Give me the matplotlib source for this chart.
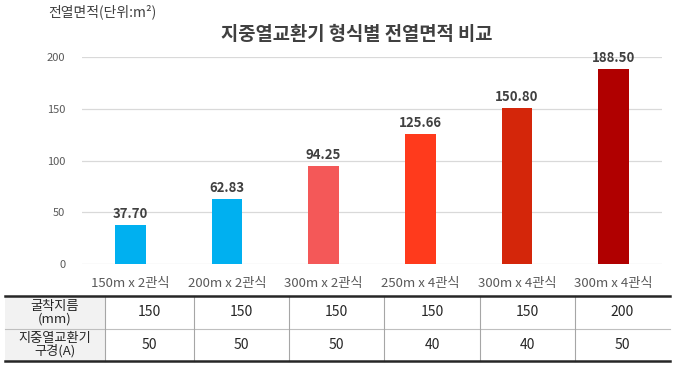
import matplotlib
matplotlib.use("Agg")
import matplotlib.pyplot as plt
from matplotlib.lines import Line2D
from matplotlib.patches import Rectangle

plt.rcParams['font.family'] = ['Noto Sans CJK KR', 'DejaVu Sans']

# data
categories = ["150m x 2관식", "200m x 2관식", "300m x 2관식",
              "250m x 4관식", "300m x 4관식", "300m x 4관식"]
areas = [37.70, 62.83, 94.25, 125.66, 150.80, 188.50]
bar_colors = ["#00B0F0", "#00B0F0", "#F45858", "#FF3A1C", "#D4260A", "#B00000"]
yticks = [0, 50, 100, 150, 200]

row_headers = ["굴착지름\n(mm)", "지중열교환기\n구경(A)"]
dig_diameter = [150, 150, 150, 150, 150, 200]
pipe_size = [50, 50, 50, 40, 40, 50]

W, H = 680, 366
fig = plt.figure(figsize=(W / 100, H / 100), dpi=100)
ax = fig.add_axes([82 / W, 1 - 264 / H, 580 / W, 207 / H])

x = range(len(categories))
bars = ax.bar(x, areas, width=0.32, color=bar_colors, zorder=3)
for b, v in zip(bars, areas):
    ax.text(b.get_x() + b.get_width() / 2, v + 4, f"{v:.2f}", ha="center", va="bottom",
            fontsize=9.5, fontweight="bold", color="#404040", clip_on=False)

ax.set_xlim(-0.5, len(categories) - 0.5)
ax.set_ylim(0, 200)
ax.set_yticks(yticks)
ax.set_xticks(list(x))
ax.set_xticklabels(categories)
ax.tick_params(axis="y", length=0, pad=12, labelsize=8, labelcolor="#595959")
ax.tick_params(axis="x", length=0, pad=9, labelsize=9.5, labelcolor="#595959")
ax.grid(axis="y", color="#D9D9D9", linewidth=0.9, zorder=0)
for s in ax.spines.values():
    s.set_visible(False)

fig.text(357 / W, 1 - 35 / H, "지중열교환기 형식별 전열면적 비교", ha="center", va="center",
         fontsize=13.5, fontweight="bold", color="#404040")
fig.text(48 / W, 1 - 12 / H, "전열면적(단위:m²)", ha="left", va="center",
         fontsize=10, color="#404040")

# table under the chart
col_edges = [5, 105, 194, 289, 384, 480, 575, 670]
y_top, y_mid, y_bot = 296, 329, 361


def fx(px):
    return px / W


def fy(py):
    return 1 - py / H


fig.patches.append(Rectangle((fx(col_edges[0]), fy(y_bot)), fx(col_edges[1] - col_edges[0]),
                             (y_bot - y_top) / H, transform=fig.transFigure,
                             facecolor="#F2F2F2", edgecolor="none", zorder=0))
fig.lines.append(Line2D([fx(5), fx(670)], [fy(y_mid)] * 2, transform=fig.transFigure,
                        color="#BFBFBF", linewidth=0.8))
for xe in col_edges[1:-1]:
    fig.lines.append(Line2D([fx(xe)] * 2, [fy(y_top), fy(y_bot)], transform=fig.transFigure,
                            color="#A6A6A6", linewidth=0.8))
for yy in (y_top, y_bot):
    fig.lines.append(Line2D([fx(5), fx(670)], [fy(yy)] * 2, transform=fig.transFigure,
                            color="#262626", linewidth=1.8))

rows = [dig_diameter, pipe_size]
row_centers = [(y_top + y_mid) / 2, (y_mid + y_bot) / 2]
for header, vals, yc in zip(row_headers, rows, row_centers):
    fig.text(fx((col_edges[0] + col_edges[1]) / 2), fy(yc), header, ha="center", va="center",
             fontsize=9.5, color="#262626", linespacing=0.95)
    for i, v in enumerate(vals):
        fig.text(fx((col_edges[i + 1] + col_edges[i + 2]) / 2), fy(yc), str(v),
                 ha="center", va="center", fontsize=10, color="#262626")

fig.savefig("out.png", dpi=100)
